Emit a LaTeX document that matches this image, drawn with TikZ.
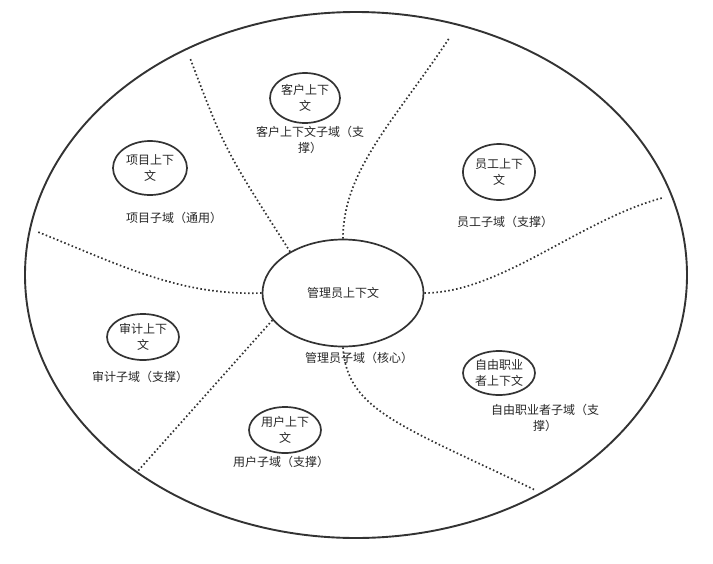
\documentclass[tikz,border=0pt]{standalone}
\usepackage{fontspec}
\setmainfont{Noto Sans CJK SC}
\usetikzlibrary{shapes.geometric,positioning}

\begin{document}
\begin{tikzpicture}[x=1pt, y=-1pt,
    ctx/.style={ellipse, draw=black!80, line width=1.7pt, inner sep=0pt,
      align=center, text=black!85, font=\fontsize{12}{16}\selectfont},
    sub/.style={align=center, text=black!85, font=\fontsize{12}{16}\selectfont},
    bound/.style={draw=black!80, line width=1.7pt, dash pattern=on 1.6pt off 2.4pt}]
  \useasboundingbox (0,0) rectangle (713,563);
  % domain and core
  \node[ellipse, draw=black!80, line width=1.9pt, minimum width=662pt, minimum height=526pt] (domain) at (356,275) {};
  \node[ctx, minimum width=161pt, minimum height=107pt] (admin) at (343,293) {管理员上下文};
  \node[sub] (adminsub) at (359,358) {管理员子域（核心）};
  % subdomains
  \node[ctx, minimum width=70pt, minimum height=50pt] (cust) at (305,98) {客户上下\\文};
  \node[sub] (custsub) at (310,140) {客户上下文子域（支\\撑）};
  \node[ctx, minimum width=74pt, minimum height=54pt] (proj) at (150,168) {项目上下\\文};
  \node[sub] (projsub) at (174,218) {项目子域（通用）};
  \node[ctx, minimum width=72pt, minimum height=56pt] (staff) at (499,172) {员工上下\\文};
  \node[sub] (staffsub) at (505,222) {员工子域（支撑）};
  \node[ctx, minimum width=72pt, minimum height=46pt] (audit) at (143,337) {审计上下\\文};
  \node[sub] (auditsub) at (140,377) {审计子域（支撑）};
  \node[ctx, minimum width=72pt, minimum height=44pt] (free) at (499,373) {自由职业\\者上下文};
  \node[sub] (freesub) at (545,418) {自由职业者子域（支\\撑）};
  \node[ctx, minimum width=72pt, minimum height=46pt] (user) at (285,430) {用户上下\\文};
  \node[sub] (usersub) at (281,462) {用户子域（支撑）};
  % boundary ends
  \coordinate (e1) at (450,37);
  \coordinate (e2) at (190,58);
  \coordinate (e3) at (38,232);
  \coordinate (e4) at (662,198);
  \coordinate (e5) at (137,472);
  \coordinate (e6) at (535,490);
  % boundaries
  \draw[bound] (admin.north) .. controls (343,170) and (395,120) .. (e1);
  \draw[bound] (admin.142) .. controls (225,150) .. (e2);
  \draw[bound] (admin.west) .. controls (180,296) and (120,265) .. (e3);
  \draw[bound] (admin.east) .. controls (500,293) and (580,220) .. (e4);
  \draw[bound] (admin.201) -- (e5);
  \draw[bound] (admin.south) .. controls (347,410) and (400,425) .. (e6);
\end{tikzpicture}
\end{document}
